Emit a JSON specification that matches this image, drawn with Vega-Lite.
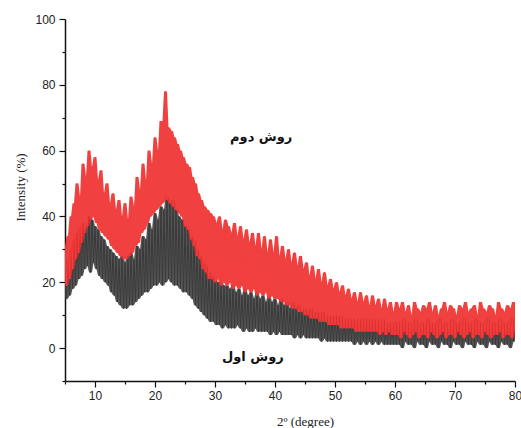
{
  "$schema": "https://vega.github.io/schema/vega-lite/v6.json",
  "width": 450,
  "height": 362,
  "autosize": "none",
  "padding": {"left": 65, "top": 19, "right": 6, "bottom": 47},
  "background": "white",
  "config": {
    "view": {"stroke": null},
    "axis": {
      "grid": false,
      "domainColor": "#111",
      "domainWidth": 1.5,
      "tickColor": "#111",
      "tickWidth": 1.2,
      "labelFont": "Liberation Sans",
      "labelFontSize": 12,
      "labelColor": "#222",
      "titleFont": "Liberation Serif",
      "titleFontSize": 13,
      "titleFontWeight": "normal",
      "titleColor": "#222"
    }
  },
  "data": {"values": [
{"x":5,"r":31,"g":26},{"x":5.25,"r":19,"g":15},{"x":5.5,"r":34,"g":27},{"x":5.75,"r":21,"g":16},
{"x":6,"r":40,"g":30},{"x":6.25,"r":24,"g":18},{"x":6.5,"r":44,"g":33},{"x":6.75,"r":27,"g":19},
{"x":7,"r":50,"g":35},{"x":7.25,"r":29,"g":21},{"x":7.5,"r":46,"g":37},{"x":7.75,"r":32,"g":22},
{"x":8,"r":56,"g":38},{"x":8.25,"r":35,"g":24},{"x":8.5,"r":52,"g":36},{"x":8.75,"r":37,"g":25},
{"x":9,"r":60,"g":40},{"x":9.25,"r":39,"g":23},{"x":9.5,"r":55,"g":39},{"x":9.75,"r":40,"g":26},
{"x":10,"r":58,"g":37},{"x":10.25,"r":38,"g":24},{"x":10.5,"r":51,"g":36},{"x":10.75,"r":36,"g":22},
{"x":11,"r":54,"g":34},{"x":11.25,"r":35,"g":21},{"x":11.5,"r":47,"g":33},{"x":11.75,"r":34,"g":20},
{"x":12,"r":50,"g":31},{"x":12.25,"r":33,"g":19},{"x":12.5,"r":44,"g":30},{"x":12.75,"r":31,"g":17},
{"x":13,"r":47,"g":29},{"x":13.25,"r":30,"g":16},{"x":13.5,"r":42,"g":28},{"x":13.75,"r":29,"g":14},
{"x":14,"r":45,"g":27},{"x":14.25,"r":28,"g":13},{"x":14.5,"r":40,"g":28},{"x":14.75,"r":27,"g":12},
{"x":15,"r":44,"g":26},{"x":15.25,"r":27,"g":12},{"x":15.5,"r":39,"g":28},{"x":15.75,"r":28,"g":13},
{"x":16,"r":46,"g":29},{"x":16.25,"r":29,"g":13},{"x":16.5,"r":43,"g":27},{"x":16.75,"r":31,"g":14},
{"x":17,"r":52,"g":31},{"x":17.25,"r":32,"g":15},{"x":17.5,"r":48,"g":30},{"x":17.75,"r":35,"g":16},
{"x":18,"r":56,"g":34},{"x":18.25,"r":36,"g":17},{"x":18.5,"r":51,"g":33},{"x":18.75,"r":38,"g":17},
{"x":19,"r":60,"g":38},{"x":19.25,"r":40,"g":18},{"x":19.5,"r":56,"g":36},{"x":19.75,"r":41,"g":19},
{"x":20,"r":64,"g":41},{"x":20.25,"r":42,"g":19},{"x":20.5,"r":60,"g":39},{"x":20.75,"r":43,"g":20},
{"x":21,"r":69,"g":43},{"x":21.25,"r":44,"g":19},{"x":21.5,"r":65,"g":42},{"x":21.75,"r":78,"g":20},
{"x":22,"r":45,"g":46},{"x":22.25,"r":67,"g":21},{"x":22.5,"r":44,"g":44},{"x":22.75,"r":66,"g":20},
{"x":23,"r":43,"g":45},{"x":23.25,"r":64,"g":19},{"x":23.5,"r":42,"g":42},{"x":23.75,"r":62,"g":19},
{"x":24,"r":41,"g":40},{"x":24.25,"r":60,"g":18},{"x":24.5,"r":40,"g":39},{"x":24.75,"r":58,"g":17},
{"x":25,"r":37,"g":37},{"x":25.25,"r":56,"g":17},{"x":25.5,"r":36,"g":36},{"x":25.75,"r":55,"g":16},
{"x":26,"r":33,"g":34},{"x":26.25,"r":52,"g":15},{"x":26.5,"r":31,"g":33},{"x":26.75,"r":50,"g":13},
{"x":27,"r":28,"g":30},{"x":27.25,"r":47,"g":12},{"x":27.5,"r":27,"g":28},{"x":27.75,"r":45,"g":11},
{"x":28,"r":24,"g":26},{"x":28.25,"r":43,"g":10},{"x":28.5,"r":23,"g":25},{"x":28.75,"r":42,"g":9},
{"x":29,"r":21,"g":23},{"x":29.25,"r":41,"g":8},{"x":29.5,"r":21,"g":22},{"x":29.75,"r":40,"g":8},
{"x":30,"r":20,"g":21},{"x":30.25,"r":38,"g":7},{"x":30.5,"r":21,"g":20},{"x":30.75,"r":40,"g":7},
{"x":31,"r":19,"g":20},{"x":31.25,"r":36,"g":6},{"x":31.5,"r":20,"g":19},{"x":31.75,"r":39,"g":7},
{"x":32,"r":19,"g":19},{"x":32.25,"r":37,"g":6},{"x":32.5,"r":20,"g":18},{"x":32.75,"r":35,"g":6},
{"x":33,"r":18,"g":19},{"x":33.25,"r":38,"g":6},{"x":33.5,"r":19,"g":17},{"x":33.75,"r":34,"g":7},
{"x":34,"r":18,"g":18},{"x":34.25,"r":37,"g":6},{"x":34.5,"r":19,"g":16},{"x":34.75,"r":33,"g":5},
{"x":35,"r":17,"g":18},{"x":35.25,"r":36,"g":6},{"x":35.5,"r":18,"g":16},{"x":35.75,"r":32,"g":5},
{"x":36,"r":17,"g":17},{"x":36.25,"r":35,"g":5},{"x":36.5,"r":18,"g":15},{"x":36.75,"r":31,"g":6},
{"x":37,"r":16,"g":17},{"x":37.25,"r":35,"g":5},{"x":37.5,"r":17,"g":15},{"x":37.75,"r":30,"g":5},
{"x":38,"r":16,"g":16},{"x":38.25,"r":34,"g":5},{"x":38.5,"r":17,"g":14},{"x":38.75,"r":29,"g":5},
{"x":39,"r":15,"g":16},{"x":39.25,"r":33,"g":4},{"x":39.5,"r":16,"g":14},{"x":39.75,"r":29,"g":5},
{"x":40,"r":15,"g":15},{"x":40.25,"r":34,"g":4},{"x":40.5,"r":15,"g":13},{"x":40.75,"r":28,"g":5},
{"x":41,"r":14,"g":15},{"x":41.25,"r":31,"g":4},{"x":41.5,"r":14,"g":13},{"x":41.75,"r":27,"g":4},
{"x":42,"r":13,"g":14},{"x":42.25,"r":30,"g":4},{"x":42.5,"r":13,"g":12},{"x":42.75,"r":26,"g":4},
{"x":43,"r":12,"g":14},{"x":43.25,"r":29,"g":3},{"x":43.5,"r":12,"g":12},{"x":43.75,"r":25,"g":4},
{"x":44,"r":11,"g":13},{"x":44.25,"r":28,"g":3},{"x":44.5,"r":11,"g":11},{"x":44.75,"r":24,"g":4},
{"x":45,"r":10,"g":12},{"x":45.25,"r":26,"g":3},{"x":45.5,"r":10,"g":11},{"x":45.75,"r":22,"g":3},
{"x":46,"r":9,"g":12},{"x":46.25,"r":25,"g":3},{"x":46.5,"r":9,"g":10},{"x":46.75,"r":21,"g":3},
{"x":47,"r":9,"g":11},{"x":47.25,"r":24,"g":3},{"x":47.5,"r":8,"g":10},{"x":47.75,"r":20,"g":2},
{"x":48,"r":8,"g":11},{"x":48.25,"r":23,"g":3},{"x":48.5,"r":8,"g":9},{"x":48.75,"r":19,"g":2},
{"x":49,"r":7,"g":10},{"x":49.25,"r":21,"g":2},{"x":49.5,"r":7,"g":9},{"x":49.75,"r":18,"g":2},
{"x":50,"r":7,"g":10},{"x":50.25,"r":20,"g":2},{"x":50.5,"r":7,"g":9},{"x":50.75,"r":17,"g":2},
{"x":51,"r":6,"g":10},{"x":51.25,"r":19,"g":2},{"x":51.5,"r":6,"g":8},{"x":51.75,"r":16,"g":2},
{"x":52,"r":6,"g":9},{"x":52.25,"r":18,"g":2},{"x":52.5,"r":6,"g":8},{"x":52.75,"r":15,"g":2},
{"x":53,"r":6,"g":9},{"x":53.25,"r":17,"g":1},{"x":53.5,"r":5,"g":8},{"x":53.75,"r":14,"g":2},
{"x":54,"r":5,"g":9},{"x":54.25,"r":17,"g":1},{"x":54.5,"r":5,"g":8},{"x":54.75,"r":14,"g":2},
{"x":55,"r":5,"g":9},{"x":55.25,"r":16,"g":1},{"x":55.5,"r":5,"g":8},{"x":55.75,"r":13,"g":2},
{"x":56,"r":5,"g":9},{"x":56.25,"r":16,"g":1},{"x":56.5,"r":5,"g":7},{"x":56.75,"r":13,"g":2},
{"x":57,"r":5,"g":9},{"x":57.25,"r":15,"g":1},{"x":57.5,"r":4,"g":7},{"x":57.75,"r":12,"g":2},
{"x":58,"r":5,"g":9},{"x":58.25,"r":15,"g":1},{"x":58.5,"r":4,"g":7},{"x":58.75,"r":12,"g":1},
{"x":59,"r":5,"g":8},{"x":59.25,"r":14,"g":1},{"x":59.5,"r":4,"g":7},{"x":59.75,"r":11,"g":1},
{"x":60,"r":4,"g":8},{"x":60.25,"r":14,"g":1},{"x":60.5,"r":4,"g":8},{"x":60.75,"r":12,"g":1},
{"x":61,"r":3,"g":7},{"x":61.25,"r":14,"g":0},{"x":61.5,"r":5,"g":9},{"x":61.75,"r":11,"g":2},
{"x":62,"r":4,"g":8},{"x":62.25,"r":13,"g":1},{"x":62.5,"r":3,"g":7},{"x":62.75,"r":10,"g":1},
{"x":63,"r":4,"g":8},{"x":63.25,"r":14,"g":0},{"x":63.5,"r":5,"g":9},{"x":63.75,"r":12,"g":2},
{"x":64,"r":3,"g":7},{"x":64.25,"r":11,"g":1},{"x":64.5,"r":4,"g":8},{"x":64.75,"r":13,"g":1},
{"x":65,"r":4,"g":7},{"x":65.25,"r":12,"g":0},{"x":65.5,"r":3,"g":9},{"x":65.75,"r":14,"g":2},
{"x":66,"r":5,"g":8},{"x":66.25,"r":11,"g":1},{"x":66.5,"r":4,"g":7},{"x":66.75,"r":13,"g":1},
{"x":67,"r":3,"g":8},{"x":67.25,"r":10,"g":0},{"x":67.5,"r":4,"g":9},{"x":67.75,"r":12,"g":2},
{"x":68,"r":5,"g":7},{"x":68.25,"r":14,"g":1},{"x":68.5,"r":3,"g":8},{"x":68.75,"r":11,"g":1},
{"x":69,"r":4,"g":7},{"x":69.25,"r":13,"g":0},{"x":69.5,"r":4,"g":9},{"x":69.75,"r":12,"g":2},
{"x":70,"r":3,"g":8},{"x":70.25,"r":10,"g":1},{"x":70.5,"r":5,"g":7},{"x":70.75,"r":13,"g":1},
{"x":71,"r":4,"g":8},{"x":71.25,"r":12,"g":0},{"x":71.5,"r":3,"g":9},{"x":71.75,"r":14,"g":2},
{"x":72,"r":4,"g":7},{"x":72.25,"r":11,"g":1},{"x":72.5,"r":5,"g":8},{"x":72.75,"r":12,"g":1},
{"x":73,"r":3,"g":7},{"x":73.25,"r":13,"g":0},{"x":73.5,"r":4,"g":9},{"x":73.75,"r":10,"g":2},
{"x":74,"r":4,"g":8},{"x":74.25,"r":14,"g":1},{"x":74.5,"r":3,"g":7},{"x":74.75,"r":12,"g":1},
{"x":75,"r":5,"g":8},{"x":75.25,"r":11,"g":0},{"x":75.5,"r":4,"g":9},{"x":75.75,"r":13,"g":2},
{"x":76,"r":3,"g":7},{"x":76.25,"r":12,"g":1},{"x":76.5,"r":4,"g":8},{"x":76.75,"r":10,"g":1},
{"x":77,"r":4,"g":7},{"x":77.25,"r":14,"g":0},{"x":77.5,"r":5,"g":9},{"x":77.75,"r":12,"g":2},
{"x":78,"r":3,"g":8},{"x":78.25,"r":11,"g":1},{"x":78.5,"r":4,"g":7},{"x":78.75,"r":13,"g":1},
{"x":79,"r":4,"g":8},{"x":79.25,"r":12,"g":0},{"x":79.5,"r":3,"g":9},{"x":79.75,"r":14,"g":2},
{"x":80,"r":5,"g":8}
  ]},
  "encoding": {
    "x": {
      "field": "x", "type": "quantitative",
      "scale": {"domain": [5, 80], "nice": false, "zero": false},
      "axis": {
        "title": "2º (degree)",
        "values": [5,10,15,20,25,30,35,40,45,50,55,60,65,70,75,80],
        "labelExpr": "datum.value % 10 === 0 ? datum.label : ''",
        "tickSize": {"condition": {"test": "datum.value % 10 === 0", "value": 6}, "value": 3},
        "labelPadding": 3,
        "labelFlush": false,
        "titleX": 240,
        "titleY": 40,
        "titleAlign": "center",
        "titleBaseline": "middle"
      }
    },
    "y": {
      "field": "v", "type": "quantitative",
      "scale": {"domain": [-10, 100], "nice": false, "zero": false},
      "axis": {
        "title": "Intensity (%)",
        "values": [-10,0,10,20,30,40,50,60,70,80,90,100],
        "labelExpr": "datum.value % 20 === 0 ? datum.label : ''",
        "tickSize": {"condition": {"test": "datum.value % 20 === 0", "value": 6}, "value": 3},
        "labelPadding": 4,
        "labelFlush": false,
        "titleX": -45,
        "titleY": 168,
        "titleAngle": 270,
        "titleAlign": "center",
        "titleBaseline": "middle"
      }
    }
  },
  "layer": [
    {
      "transform": [{"window": [{"op": "min", "field": "g", "as": "v"}, {"op": "max", "field": "g", "as": "v2"}], "frame": [-1, 1], "sort": [{"field": "x"}]}],
      "mark": {"type": "area", "color": "#444444", "opacity": 0.9, "clip": true},
      "encoding": {"y2": {"field": "v2"}}
    },
    {
      "transform": [{"fold": ["g"], "as": ["s", "v"]}],
      "mark": {"type": "line", "color": "#3a3a3a", "strokeWidth": 1, "clip": true}
    },
    {
      "transform": [{"window": [{"op": "min", "field": "r", "as": "v"}, {"op": "max", "field": "r", "as": "v2"}], "frame": [-1, 1], "sort": [{"field": "x"}]}],
      "mark": {"type": "area", "color": "#ee2b2b", "opacity": 0.9, "clip": true},
      "encoding": {"y2": {"field": "v2"}}
    },
    {
      "transform": [{"fold": ["r"], "as": ["s", "v"]}],
      "mark": {"type": "line", "color": "#f04040", "strokeWidth": 1, "clip": true}
    },
    {
      "data": {"values": [
        {"x": 37.7, "v": 64, "t": "روش دوم"},
        {"x": 36.3, "v": -2.7, "t": "روش اول"}
      ]},
      "mark": {"type": "text", "font": "DejaVu Sans", "fontWeight": "bold", "fontSize": 13, "color": "#111"},
      "encoding": {"text": {"field": "t"}}
    }
  ]
}
